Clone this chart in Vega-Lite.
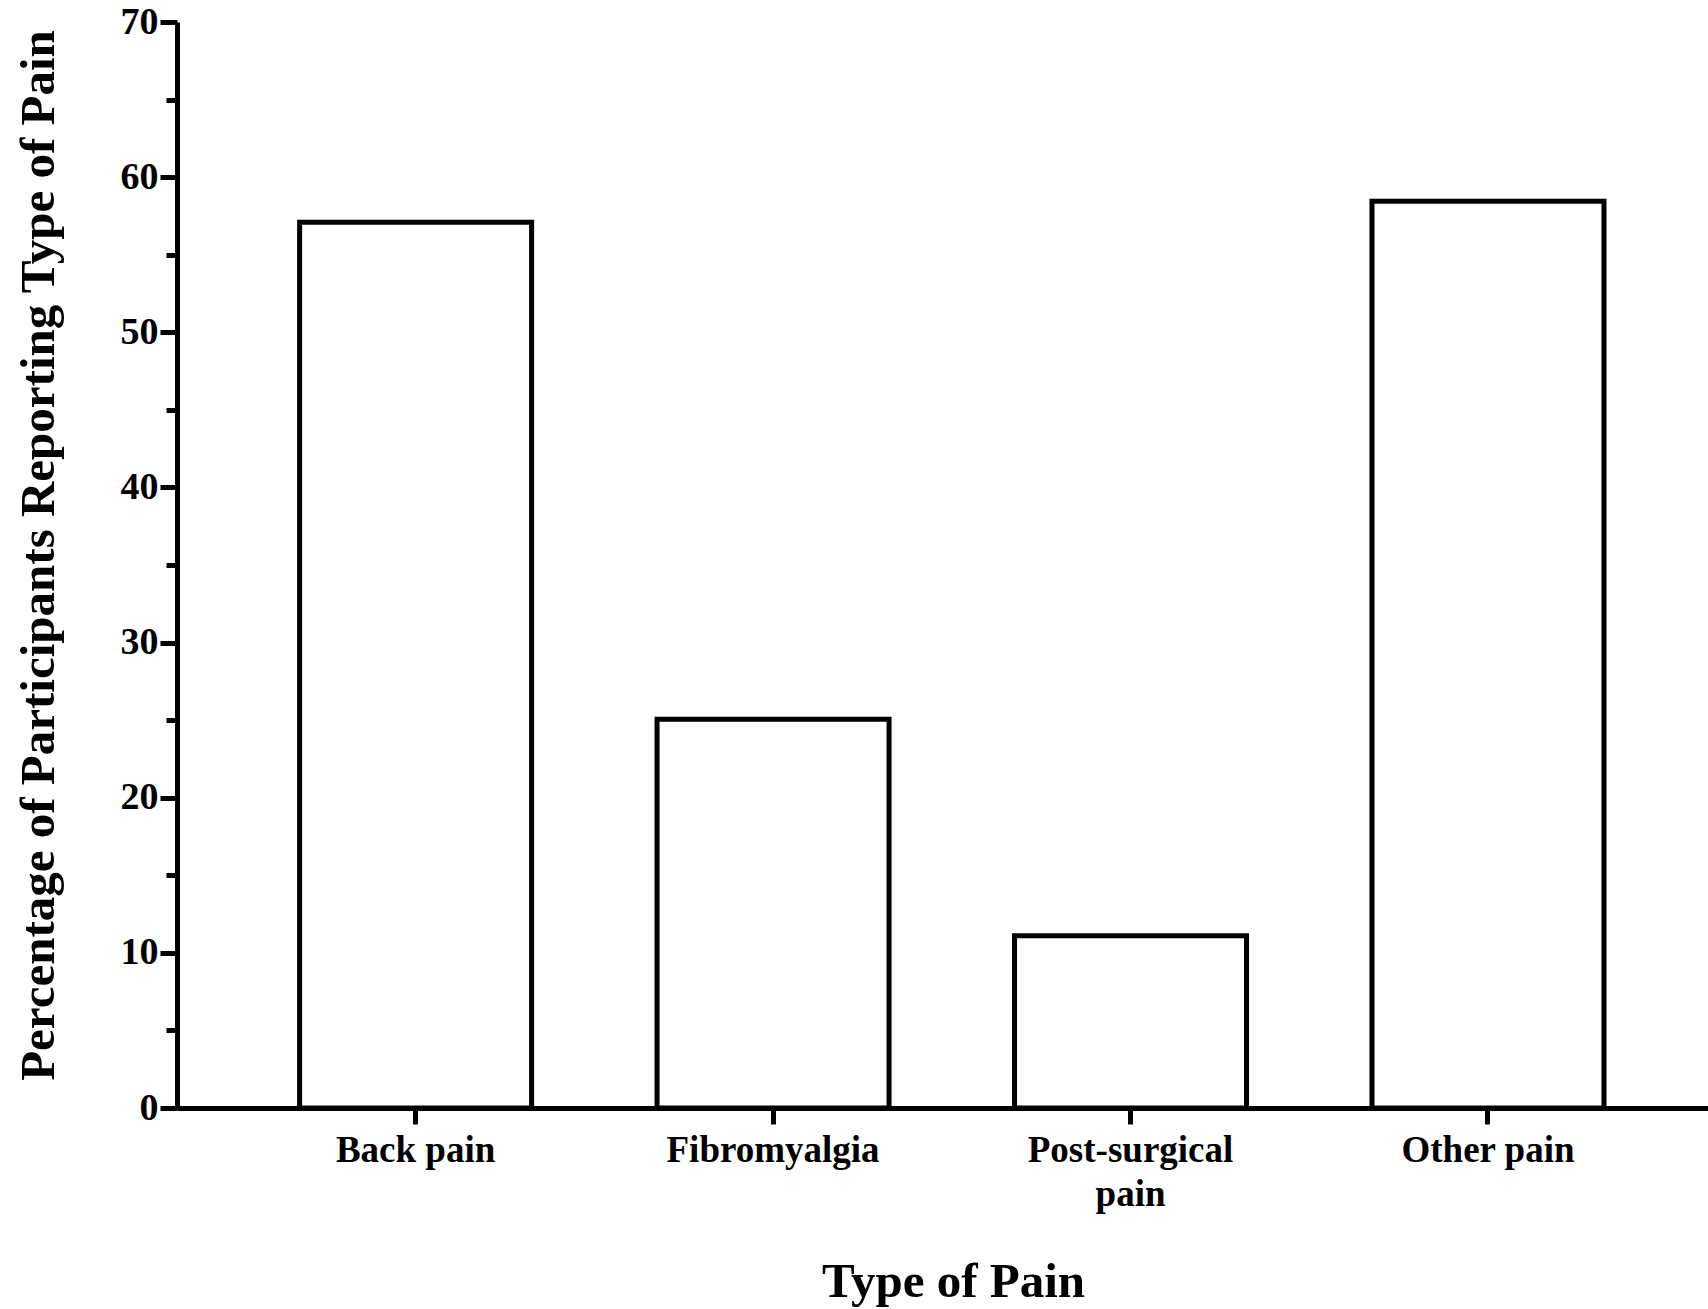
{
  "$schema": "https://vega.github.io/schema/vega-lite/v6.json",
  "autosize": "none",
  "padding": {"left": 177, "top": 22, "right": 0, "bottom": 201},
  "width": 1531,
  "height": 1086,
  "background": "white",
  "config": {"view": {"stroke": null}, "font": "Liberation Serif"},
  "data": {
    "values": [
      {"type": "Back pain", "pct": 57.1},
      {"type": "Fibromyalgia", "pct": 25.05},
      {"type": "Post-surgical pain", "pct": 11.1},
      {"type": "Other pain", "pct": 58.45}
    ]
  },
  "mark": {"type": "bar", "fill": "white", "stroke": "black", "strokeWidth": 5},
  "encoding": {
    "x": {
      "field": "type",
      "type": "nominal",
      "sort": null,
      "scale": {"paddingInner": 0.351, "paddingOuter": 0.317, "align": 0.541},
      "axis": {
        "title": "Type of Pain",
        "titleFont": "Liberation Serif",
        "titleFontSize": 49,
        "titleFontWeight": "bold",
        "titleColor": "black",
        "titleX": 776,
        "titleY": 188,
        "titleBaseline": "alphabetic",
        "labelAngle": 0,
        "labelFont": "Liberation Serif",
        "labelFontSize": 37,
        "labelFontWeight": "bold",
        "labelColor": "black",
        "labelPadding": 8,
        "labelLineHeight": 44,
        "labelLimit": 600,
        "labelExpr": "datum.label == 'Post-surgical pain' ? ['Post-surgical', 'pain'] : datum.label",
        "domainColor": "black",
        "domainWidth": 5,
        "tickColor": "black",
        "tickWidth": 5,
        "tickSize": 16,
        "grid": false
      }
    },
    "y": {
      "field": "pct",
      "type": "quantitative",
      "scale": {"domain": [0, 70], "nice": false},
      "axis": {
        "title": "Percentage of Participants Reporting Type of Pain",
        "titleFont": "Liberation Serif",
        "titleFontSize": 49,
        "titleFontWeight": "bold",
        "titleColor": "black",
        "titleX": -124,
        "titleY": 533,
        "titleBaseline": "alphabetic",
        "titleLimit": 2000,
        "values": [0, 5, 10, 15, 20, 25, 30, 35, 40, 45, 50, 55, 60, 65, 70],
        "labelExpr": "datum.value % 10 === 0 ? datum.label : ''",
        "labelFont": "Liberation Serif",
        "labelFontSize": 38,
        "labelFontWeight": "bold",
        "labelColor": "black",
        "labelPadding": 2,
        "labelOverlap": false,
        "labelFlush": false,
        "domainColor": "black",
        "domainWidth": 5,
        "tickColor": "black",
        "tickWidth": 5,
        "tickSize": {"condition": {"test": "datum.value % 10 !== 0", "value": 11}, "value": 17},
        "grid": false
      }
    }
  }
}
